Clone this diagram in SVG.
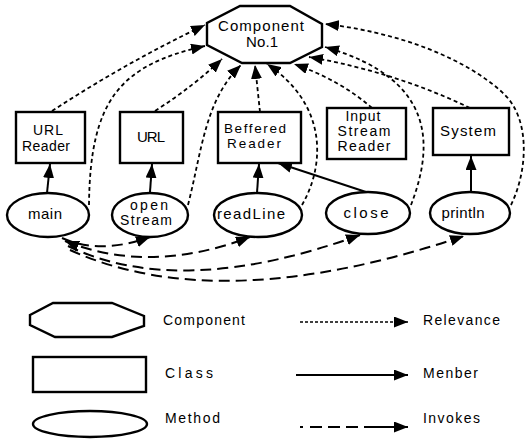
<svg xmlns="http://www.w3.org/2000/svg" width="527" height="448" viewBox="0 0 527 448">
<style>
.n{fill:#fff;stroke:#000;stroke-width:2.4}
.t{font-family:"Liberation Sans",Arial,sans-serif;font-size:14px;fill:#000;text-anchor:middle}
.b{font-size:15px}
.s{font-size:13.5px}
.lt{font-family:"Liberation Sans",Arial,sans-serif;font-size:14px;fill:#000}
.rel{fill:none;stroke:#000;stroke-width:1.8;stroke-dasharray:4 3;marker-end:url(#ah)}
.mem{fill:none;stroke:#000;stroke-width:2;marker-end:url(#ah)}
.inv{fill:none;stroke:#000;stroke-width:2;stroke-dasharray:11 6;marker-end:url(#ah)}
</style>
<defs>
<marker id="ah" markerUnits="userSpaceOnUse" markerWidth="15" markerHeight="11" refX="14" refY="5.5" orient="auto-start-reverse">
<path d="M0,0 L14,5.5 L0,11 z" fill="#000"/>
</marker>
</defs>
<rect width="527" height="448" fill="#fff"/>
<g id="connectors">
<path class="rel" d="M52,111 Q127,62 205,25"/>
<path class="rel" d="M89,205 C90,100 120,65 205,46"/>
<path class="rel" d="M155,111 Q195,85 222,59"/>
<path class="rel" d="M188,205 C202,150 205,100 241,65"/>
<path class="rel" d="M260,112 L255,65"/>
<path class="rel" d="M302,205 C325,165 328,105 267,64"/>
<path class="rel" d="M372,108 Q340,80 294,64"/>
<path class="rel" d="M470,108 Q395,72 309,57"/>
<path class="rel" d="M411,205 C432,150 440,80 325,47"/>
<path class="rel" d="M511,205 C528,170 530,120 505,95 S420,35 325,24"/>
<path class="mem" d="M47,193 L50,164"/>
<path class="mem" d="M150,192 L152,164"/>
<path class="mem" d="M257,193 L259,164"/>
<path class="mem" d="M366,192 L278,163"/>
<path class="mem" d="M471,192 L471,156"/>
<path class="inv" d="M62,238 Q100,255 150,237"/>
<path class="inv" d="M65,241 Q150,275 250,237" marker-start="url(#ah)"/>
<path class="inv" d="M68,246 Q180,300 360,235"/>
<path class="inv" d="M70,250 Q220,318 464,236"/>
</g>
<g id="component1">
<polygon class="n" points="240,6 290,6 322,24 322,47 290,63 242,63 207,45 207,23"/>
<text class="t b" x="261" y="31" textLength="86" lengthAdjust="spacing">Component</text>
<text class="t b" x="262" y="47" textLength="32" lengthAdjust="spacing">No.1</text>
</g>
<g id="urlreader">
<rect class="n" x="16" y="112" width="69" height="51"/>
<text class="t" x="48" y="135" textLength="30" lengthAdjust="spacing">URL</text>
<text class="t" x="46" y="151" textLength="48" lengthAdjust="spacing">Reader</text>
</g>
<g id="url">
<rect class="n" x="120" y="112" width="63" height="51"/>
<text class="t b" x="151" y="142" textLength="28" lengthAdjust="spacing">URL</text>
</g>
<g id="bufferedreader">
<rect class="n" x="218" y="112" width="83" height="51"/>
<text class="t s" x="255" y="133" textLength="62" lengthAdjust="spacing">Beffered</text>
<text class="t s" x="254" y="148" textLength="54" lengthAdjust="spacing">Reader</text>
</g>
<g id="inputstreamreader">
<rect class="n" x="327" y="108" width="79" height="51"/>
<text class="t" x="363" y="121" textLength="35" lengthAdjust="spacing">Input</text>
<text class="t" x="364" y="136" textLength="53" lengthAdjust="spacing">Stream</text>
<text class="t" x="364" y="151" textLength="53" lengthAdjust="spacing">Reader</text>
</g>
<g id="system">
<rect class="n" x="433" y="108" width="76" height="47"/>
<text class="t b" x="468" y="136" textLength="56" lengthAdjust="spacing">System</text>
</g>
<g id="main">
<ellipse class="n" cx="48" cy="215" rx="41" ry="22"/>
<text class="t b" x="45" y="219" textLength="34" lengthAdjust="spacing">main</text>
</g>
<g id="openstream">
<ellipse class="n" cx="150" cy="215" rx="38" ry="22"/>
<text class="t" x="149" y="210" textLength="38" lengthAdjust="spacing">open</text>
<text class="t" x="146" y="225" textLength="52" lengthAdjust="spacing">Stream</text>
</g>
<g id="readline">
<ellipse class="n" cx="258" cy="215" rx="44" ry="22"/>
<text class="t b" x="251" y="219" textLength="68" lengthAdjust="spacing">readLine</text>
</g>
<g id="close">
<ellipse class="n" cx="368" cy="213" rx="42" ry="21"/>
<text class="t b" x="366" y="218" textLength="45" lengthAdjust="spacing">close</text>
</g>
<g id="println">
<ellipse class="n" cx="470" cy="213" rx="40" ry="21"/>
<text class="t b" x="463" y="218" textLength="43" lengthAdjust="spacing">println</text>
</g>
<g id="legend">
<polygon class="n" points="30,315 53,303 112,303 144,316 144,326 112,337 55,337 30,325"/>
<rect class="n" x="33" y="357" width="113" height="35"/>
<ellipse class="n" cx="90" cy="424" rx="57" ry="13"/>
<text class="lt" x="163" y="325" textLength="82" lengthAdjust="spacing">Component</text>
<text class="lt" x="165" y="378" textLength="48" lengthAdjust="spacing">Class</text>
<text class="lt" x="165" y="423" textLength="55" lengthAdjust="spacing">Method</text>
<text class="lt" x="423" y="325" textLength="77" lengthAdjust="spacing">Relevance</text>
<text class="lt" x="423" y="378" textLength="55" lengthAdjust="spacing">Menber</text>
<text class="lt" x="423" y="423" textLength="57" lengthAdjust="spacing">Invokes</text>
<path d="M300,322 L408,322" fill="none" stroke="#000" stroke-width="1.6" stroke-dasharray="3 2" marker-end="url(#ah)"/>
<path d="M296,375 L408,375" fill="none" stroke="#000" stroke-width="2" marker-end="url(#ah)"/>
<path d="M300,427 L408,427" fill="none" stroke="#000" stroke-width="2" stroke-dasharray="3 7 12 6 12 6 12 6 60" marker-end="url(#ah)"/>
</g>
</svg>
